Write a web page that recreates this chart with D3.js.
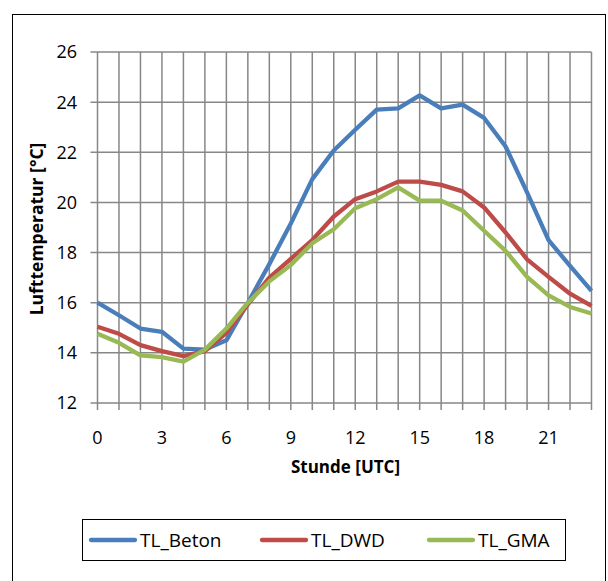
<!DOCTYPE html>
<html>
<head>
<meta charset="utf-8">
<script src="https://cdn.jsdelivr.net/npm/d3@7"></script>
<style>
  body { margin: 0; background: #fff; }
  text { font-family: "Open Sans", Lato, sans-serif; fill: #000; }
</style>
</head>
<body>
<script>
var hours = d3.range(0, 24);
var xTicks = [0, 3, 6, 9, 12, 15, 18, 21];
var yTicks = [12, 14, 16, 18, 20, 22, 24, 26];

var beton = [16.0, 15.5, 14.97, 14.84, 14.17, 14.13, 14.5, 16.0, 17.54, 19.16, 20.93, 22.07,
             22.9, 23.7, 23.75, 24.27, 23.75, 23.9, 23.37, 22.23, 20.4, 18.5, 17.47, 16.47];
var dwd   = [15.04, 14.76, 14.31, 14.07, 13.87, 14.07, 14.8, 15.93, 17.0, 17.75, 18.5, 19.44,
             20.13, 20.44, 20.83, 20.83, 20.7, 20.44, 19.8, 18.8, 17.73, 17.03, 16.36, 15.87];
var gma   = [14.76, 14.4, 13.9, 13.83, 13.65, 14.13, 14.97, 16.0, 16.85, 17.5, 18.37, 18.93,
             19.77, 20.13, 20.6, 20.07, 20.07, 19.68, 18.87, 18.07, 17.03, 16.29, 15.83, 15.57];

var seriesNames = ["TL_Beton", "TL_DWD", "TL_GMA"];
var seriesColors = ["#4a7ebb", "#be4b48", "#98b954"];
var series = [beton, dwd, gma];

var W = 608, H = 581;
var svg = d3.select("body").append("svg").attr("width", W).attr("height", H);

// chart area border
svg.append("rect").attr("x", 12.5).attr("y", 14.5).attr("width", 593).attr("height", 600)
  .attr("fill", "none").attr("stroke", "#000").attr("stroke-width", 1);

var x = d3.scaleLinear().domain([0, 23]).range([97.5, 591.5]);
var y = d3.scaleLinear().domain([12, 26]).range([403, 52]);

var grid = svg.append("g");
// horizontal gridlines with ticks
grid.selectAll("line.h").data(yTicks).join("line")
  .attr("x1", x(0) - 7).attr("x2", x(23))
  .attr("y1", d => y(d)).attr("y2", d => y(d))
  .attr("stroke", "#878787").attr("stroke-width", 1.5);
// vertical gridlines with ticks
grid.selectAll("line.v").data(hours).join("line")
  .attr("x1", d => x(d)).attr("x2", d => x(d))
  .attr("y1", y(26)).attr("y2", y(12) + 7)
  .attr("stroke", "#878787").attr("stroke-width", 1.5);

// tick labels
svg.append("g").selectAll("text").data(yTicks).join("text")
  .attr("x", 77).attr("y", d => y(d)).attr("dy", "0.36em")
  .attr("text-anchor", "end").style("font-size", "18px")
  .text(d => d);
svg.append("g").selectAll("text").data(xTicks).join("text")
  .attr("x", d => x(d)).attr("y", 444)
  .attr("text-anchor", "middle").style("font-size", "18px")
  .text(d => d);

// axis titles
svg.append("text").attr("x", x(11.5) + 1).attr("y", 473)
  .attr("text-anchor", "middle").style("font-size", "17px").style("font-weight", "bold")
  .text("Stunde [UTC]");
svg.append("text").attr("transform", "translate(43,229) rotate(-90)")
  .attr("text-anchor", "middle").style("font-size", "17.5px").style("font-weight", "bold")
  .text("Lufttemperatur [°C]");

// lines
var line = d3.line().x((d, i) => x(hours[i])).y(d => y(d));
svg.append("g").selectAll("path").data(series).join("path")
  .attr("d", line)
  .attr("fill", "none")
  .attr("stroke", (d, i) => seriesColors[i])
  .attr("stroke-width", 4.3)
  .attr("stroke-linejoin", "round");

// legend
var legend = svg.append("g");
legend.append("rect").attr("x", 82.5).attr("y", 519.5).attr("width", 483).attr("height", 41)
  .attr("fill", "none").attr("stroke", "#000").attr("stroke-width", 1);
var legX = [91, 262, 429];
var item = legend.selectAll("g").data(seriesNames).join("g")
  .attr("transform", (d, i) => "translate(" + legX[i] + ",540)");
item.append("line").attr("x1", 0).attr("x2", 44).attr("y1", 0).attr("y2", 0)
  .attr("stroke", (d, i) => seriesColors[i]).attr("stroke-width", 4.3)
  .attr("stroke-linecap", "round");
item.append("text").attr("x", 49).attr("dy", "0.36em").style("font-size", "19px")
  .text(d => d);
</script>
</body>
</html>
